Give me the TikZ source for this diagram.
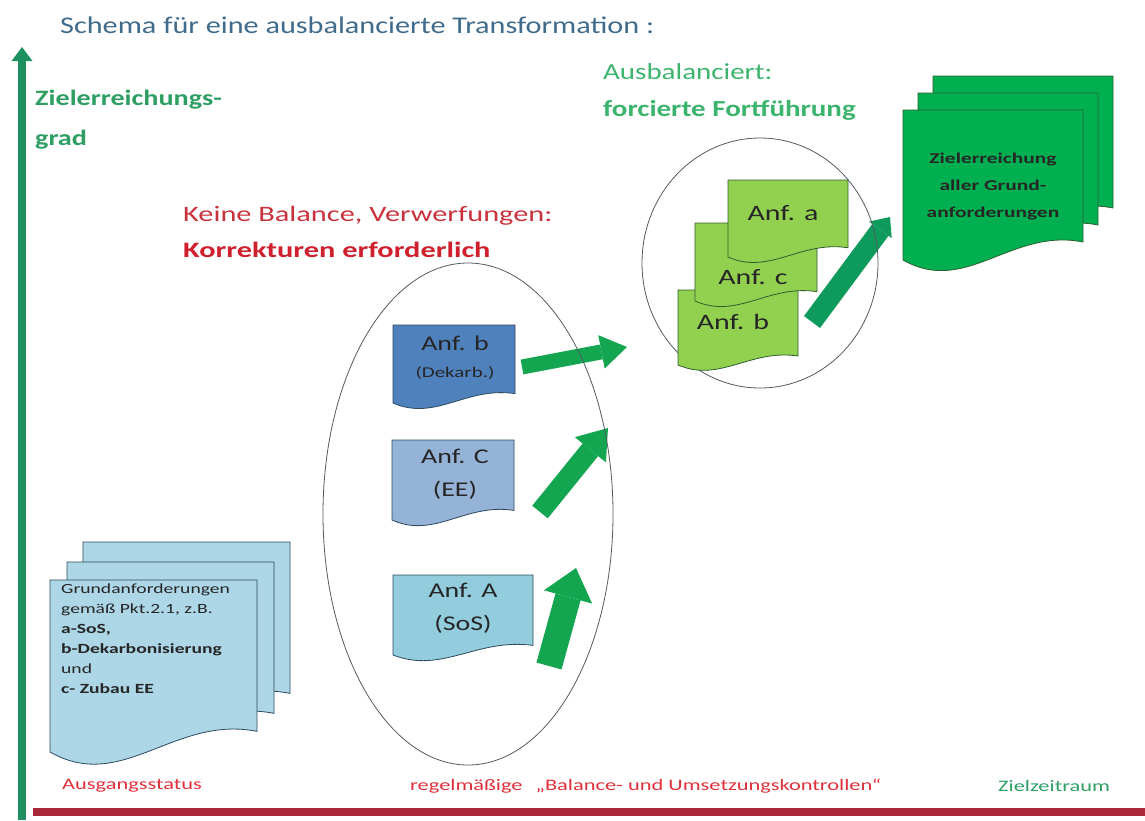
\documentclass[tikz,border=0pt]{standalone}
\usepackage{fontspec}
\setmainfont{Carlito}
\usepackage{xcolor}
\usepackage{tikz}
\usetikzlibrary{arrows.meta,positioning,shapes.geometric}
\definecolor{AxisGreen}{HTML}{1E8F5E}
\definecolor{AxisRed}{HTML}{A8283A}
\definecolor{TitleBlue}{HTML}{3F6B8C}
\definecolor{LabelGreen}{HTML}{2E9E62}
\definecolor{LightGreenText}{HTML}{3DB46D}
\definecolor{WarnRed}{HTML}{C8323C}
\definecolor{StrongRed}{HTML}{D0202E}
\definecolor{FootRed}{HTML}{E0303A}
\definecolor{ArrowGreen}{HTML}{14A550}
\definecolor{DarkArrow}{HTML}{0E9A5A}
\definecolor{DocLine}{HTML}{2C4A5E}
\definecolor{LeafLine}{HTML}{2E5E2E}
\definecolor{GroupLine}{HTML}{505A60}
\definecolor{GrundBlue}{HTML}{ADD6E6}
\definecolor{DekarbBlue}{HTML}{4F81BD}
\definecolor{EEBlue}{HTML}{95B3D7}
\definecolor{SoSBlue}{HTML}{93CDDD}
\definecolor{LeafGreen}{HTML}{92D050}
\definecolor{GoalGreen}{HTML}{00B050}
% document sheet with wavy lower edge: style, x, y, width, height
\newcommand{\docpath}[5]{%
  \filldraw[#1] (#2,#3) -- (#2+#4,#3) -- (#2+#4,#3+0.88*#5)
    .. controls (#2+0.6*#4,#3+0.784*#5) and (#2+0.35*#4,#3+1.24*#5) .. (#2,#3+#5) -- cycle;}
% font size and horizontal stretch
\newcommand{\wfont}[3]{\fontsize{#1}{#2}\selectfont\addfontfeature{FakeStretch=#3}}

\begin{document}
\begin{tikzpicture}[x=1pt,y=-1pt,
  every node/.style={align=center,inner sep=0pt},
  docu/.style={fill=#1,draw=DocLine,line width=0.8pt},
  gdocu/.style={fill=#1,draw=LeafLine,line width=0.8pt},
  group/.style={ellipse,draw=GroupLine,line width=0.8pt},
  block/.style n args={3}{line width=#1,draw=ArrowGreen,-{Triangle[length=#2,width=#3,line width=0pt]}},
  anftext/.style={font=\wfont{21}{33}{1.33},text=black!85},
  leaftext/.style={font=\wfont{22}{24}{1.36},text=black!85},
  foot/.style={anchor=west,font=\wfont{16}{18}{1.4}}
]
\useasboundingbox (0,0) rectangle (1145,820);

% axes
\coordinate (ybot) at (22,820);
\coordinate (ytop) at (22,47);
\coordinate (xleft) at (33,812);
\coordinate (xright) at (1145,812);
\draw[AxisRed,line width=8pt] (xleft) -- (xright);
\draw[AxisGreen,line width=8pt,-{Triangle[length=14pt,width=21pt,line width=0pt]}] (ybot) -- (ytop);

% texts
\node[anchor=west,font=\wfont{24}{28}{1.26},text=TitleBlue] (title) at (60,25) {Schema für eine ausbalancierte Transformation :};
\node[anchor=north west,align=left,font=\bfseries\wfont{22}{40}{1.28},text=LabelGreen] (ygrad) at (35,90) {Zielerreichungs-\\grad};
\node[anchor=north west,align=left,font=\wfont{23}{37}{1.26},text=LightGreenText] (balanced) at (603,63) {Ausbalanciert:\\\textbf{forcierte Fortführung}};
\node[anchor=north west,align=left,font=\wfont{22}{36}{1.38},text=WarnRed] (unbalanced) at (183,206) {Keine Balance, Verwerfungen:\\\textcolor{StrongRed}{\textbf{Korrekturen erforderlich}}};

% arrows
\coordinate (tailB) at (522,367); \coordinate (tipB) at (627,347);
\coordinate (tailC) at (540,512); \coordinate (tipC) at (608,428);
\coordinate (tailA) at (549,666); \coordinate (tipA) at (576,568);
\coordinate (tailG) at (812,322); \coordinate (tipG) at (890,217);
\draw[block={15pt}{26pt}{34pt}] (tailB) -- (tipB);
\draw[block={20pt}{28pt}{40pt}] (tailC) -- (tipC);
\draw[block={26pt}{30pt}{50pt}] (tailA) -- (tipA);
\draw[block={20pt}{16pt}{28pt},draw=DarkArrow] (tailG) -- (tipG);

% groups
\node[group,minimum width=290pt,minimum height=502pt] (imbal) at (468,514) {};
\node[group,minimum width=236pt,minimum height=250pt] (bal) at (760,263) {};

% starting requirements
\docpath{docu=GrundBlue}{83}{542}{207}{172}
\docpath{docu=GrundBlue}{67}{562}{207}{172}
\docpath{docu=GrundBlue}{50}{580}{207}{172}
\node[anchor=north west,align=left,font=\wfont{14}{20}{1.4},text=black!85] (grund) at (61,584)
  {Grundanforderungen\\gemäß Pkt.2.1, z.B.\\\textbf{a-SoS,}\\\textbf{b-Dekarbonisierung}\\und\\\textbf{c- Zubau EE}};

% unbalanced requirements
\docpath{docu=DekarbBlue}{393}{325}{122}{78}
\node[anftext] (anfB) at (455,358) {Anf. b\\[-6pt]{\wfont{15}{17}{1.4}(Dekarb.)}};
\docpath{docu=EEBlue}{392}{440}{122}{80}
\node[anftext] (anfC) at (455,474) {Anf. C\\(EE)};
\docpath{docu=SoSBlue}{393}{575}{140}{80}
\node[anftext] (anfA) at (463,608) {Anf. A\\(SoS)};

% balanced requirements
\docpath{gdocu=LeafGreen}{678}{290}{120}{75}
\node[leaftext] (leafb) at (733,322) {Anf. b};
\docpath{gdocu=LeafGreen}{695}{223}{122}{78}
\node[leaftext] (leafc) at (753,277) {Anf. c};
\docpath{gdocu=LeafGreen}{728}{180}{120}{77}
\node[leaftext] (leafa) at (783,213) {Anf. a};

% goal
\docpath{gdocu=GoalGreen}{933}{76}{180}{150}
\docpath{gdocu=GoalGreen}{918}{93}{180}{150}
\docpath{gdocu=GoalGreen}{903}{110}{180}{150}
\node[font=\bfseries\wfont{15}{27}{1.43},text=black!85] (goal) at (993,187) {Zielerreichung\\aller Grund-\\anforderungen};

% time line labels
\node[foot,text=FootRed] (start) at (62,786) {Ausgangsstatus};
\node[foot,text=FootRed] (checks) at (410,786) {regelmäßige \enspace„Balance- und Umsetzungskontrollen“};
\node[foot,text=LabelGreen] (target) at (998,786) {Zielzeitraum};
\end{tikzpicture}
\end{document}
